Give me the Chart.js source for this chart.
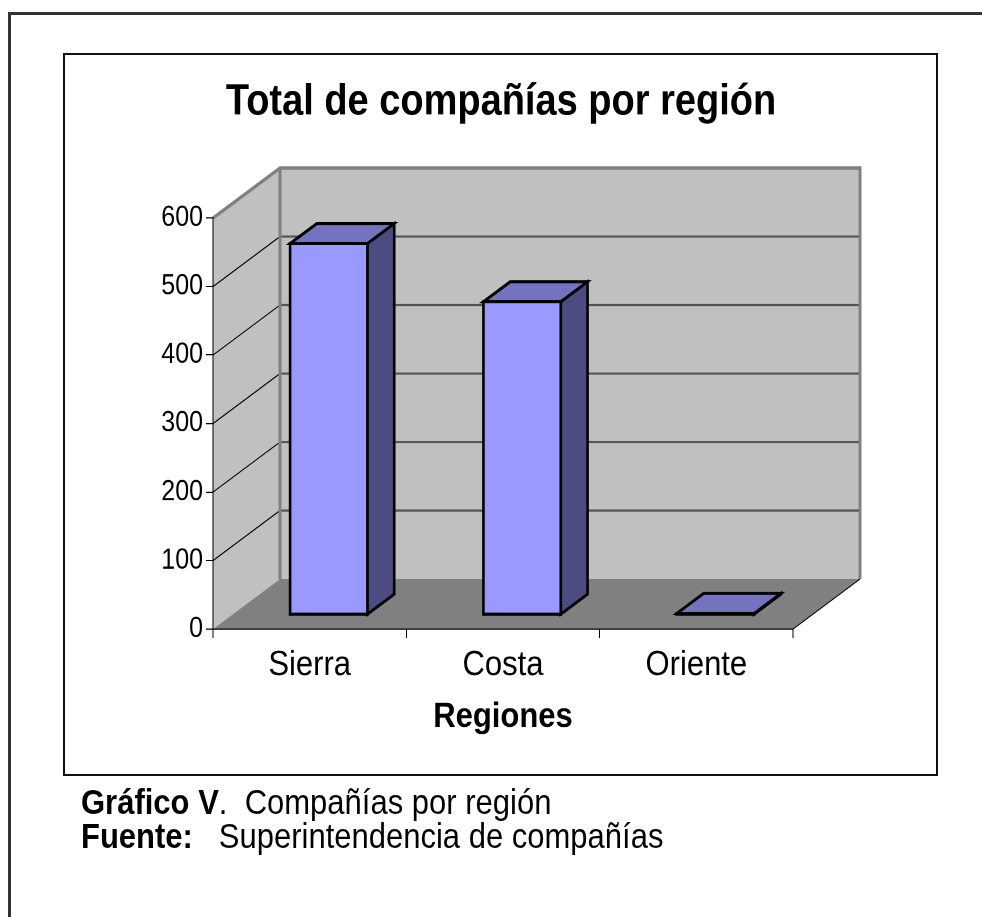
<!DOCTYPE html>
<html>
<head>
<meta charset="utf-8">
<script src="https://cdn.jsdelivr.net/npm/chart.js@4.4.1/dist/chart.umd.min.js"></script>
<style>
  body { margin: 0; background: #fff; width: 982px; height: 917px; overflow: hidden; position: relative;
         font-family: "Liberation Sans", Arial, sans-serif; }
  #outer { position: absolute; left: 8px; top: 12px; width: 1000px; height: 1000px;
           border-left: 3px solid #333; border-top: 3px solid #333; }
  #inner { position: absolute; left: 63px; top: 53px; width: 871px; height: 719px; border: 2px solid #111; }
  /* the original picture is stretched a bit vertically, text included */
  #chart { position: absolute; left: 0; top: 0; transform: scaleY(1.15); transform-origin: 0 0; }
  .cap { position: absolute; left: 81px; top: 785px; font-size: 31px; line-height: 30px; color: #000;
         white-space: pre; transform: scaleY(1.15); transform-origin: 0 0; }
</style>
</head>
<body>
<div id="outer"></div>
<div id="inner"></div>
<canvas id="chart" width="982" height="797"></canvas>
<div class="cap"><b>Gráfico V</b>.  Compañías por región
<b>Fuente:</b>   Superintendencia de compañías</div>

<script>
let regions = ["Sierra", "Costa", "Oriente"];
let companies = [542, 457, 2];
let yMax = 600;
let yStep = 100;

// depth of the 3D box and where the bars sit inside it
const DX = 67, DY = -43.5;
const D0 = 0.285, D1 = 0.685;

function poly(ctx, pts) {
    ctx.beginPath();
    ctx.moveTo(pts[0][0], pts[0][1]);
    for (let i = 1; i < pts.length; i++) ctx.lineTo(pts[i][0], pts[i][1]);
    ctx.closePath();
}

function line(ctx, x1, y1, x2, y2) {
    ctx.beginPath();
    ctx.moveTo(x1, y1);
    ctx.lineTo(x2, y2);
    ctx.stroke();
}

const box3d = {
    id: 'box3d',
    beforeDraw(chart) {
        const ctx = chart.ctx;
        const a = chart.chartArea;
        const y = chart.scales.y;
        ctx.save();

        // back wall
        ctx.fillStyle = '#c0c0c0';
        ctx.fillRect(a.left + DX, a.top + DY, a.right - a.left, a.bottom - a.top);
        // left wall
        poly(ctx, [[a.left, a.top], [a.left + DX, a.top + DY], [a.left + DX, a.bottom + DY], [a.left, a.bottom]]);
        ctx.fill();
        // floor
        ctx.fillStyle = '#808080';
        poly(ctx, [[a.left, a.bottom], [a.left + DX, a.bottom + DY], [a.right + DX, a.bottom + DY], [a.right, a.bottom]]);
        ctx.fill();

        // gridlines
        y.ticks.forEach(t => {
            if (t.value === 0 || t.value === yMax) return;
            const py = y.getPixelForValue(t.value);
            ctx.strokeStyle = '#555';
            ctx.lineWidth = 1.8;
            line(ctx, a.left + DX, py + DY, a.right + DX, py + DY);
            ctx.strokeStyle = '#000';
            ctx.lineWidth = 1;
            line(ctx, a.left, py, a.left + DX, py + DY);
        });

        // wall edges
        ctx.strokeStyle = '#808080';
        ctx.lineWidth = 3;
        ctx.beginPath();
        ctx.moveTo(a.left, a.top);
        ctx.lineTo(a.left + DX, a.top + DY);
        ctx.lineTo(a.right + DX, a.top + DY);
        ctx.lineTo(a.right + DX, a.bottom + DY);
        ctx.stroke();
        line(ctx, a.left + DX, a.top + DY, a.left + DX, a.bottom + DY);

        // floor right edge
        ctx.strokeStyle = '#000';
        ctx.lineWidth = 1;
        line(ctx, a.right, a.bottom, a.right + DX, a.bottom + DY);
        ctx.restore();
    },
    afterDatasetsDraw(chart) {
        const ctx = chart.ctx;
        const meta = chart.getDatasetMeta(0);
        ctx.save();
        ctx.strokeStyle = '#000';
        ctx.lineWidth = 2.6;
        ctx.lineJoin = 'miter';
        meta.data.forEach(bar => {
            const p = bar.getProps(['x', 'y', 'base', 'width'], true);
            const x0 = p.x - p.width / 2 + D0 * DX;
            const x1 = p.x + p.width / 2 + D0 * DX;
            const top = p.y + D0 * DY;
            const bot = p.base + D0 * DY;
            const bx = (D1 - D0) * DX, by = (D1 - D0) * DY;

            ctx.fillStyle = '#4c4c80';
            poly(ctx, [[x1, top], [x1 + bx, top + by], [x1 + bx, bot + by], [x1, bot]]);
            ctx.fill(); ctx.stroke();

            ctx.fillStyle = '#7373bf';
            poly(ctx, [[x0, top], [x0 + bx, top + by], [x1 + bx, top + by], [x1, top]]);
            ctx.fill(); ctx.stroke();

            ctx.fillStyle = '#9999ff';
            poly(ctx, [[x0, top], [x1, top], [x1, bot], [x0, bot]]);
            ctx.fill(); ctx.stroke();
        });
        ctx.restore();
    }
};

Chart.defaults.font.family = '"Liberation Sans", Arial, sans-serif';
Chart.defaults.color = '#000';

let ctx = document.getElementById('chart').getContext('2d');

let chart = new Chart(ctx, {
    type: 'bar',
    data: {
        labels: regions,
        datasets: [{
            label: 'Compañías',
            data: companies,
            backgroundColor: 'rgba(0,0,0,0)',
            borderWidth: 0,
            barPercentage: 0.4,
            categoryPercentage: 1
        }]
    },
    options: {
        responsive: false,
        devicePixelRatio: 2,
        animation: false,
        events: [],
        layout: {
            padding: { left: 40, right: 20, top: 0, bottom: 151 }
        },
        plugins: {
            legend: { display: false },
            tooltip: { enabled: false },
            title: {
                display: true,
                text: 'Total de compañías por región',
                color: '#000',
                font: { size: 38, weight: 'bold' },
                padding: { top: 66, bottom: 78 }
            }
        },
        scales: {
            x: {
                grid: { drawOnChartArea: false, tickLength: 8, color: '#000', offset: true },
                border: { color: '#000', width: 1 },
                ticks: { font: { size: 31 }, color: '#000', padding: 5 },
                title: {
                    display: true,
                    text: 'Regiones',
                    color: '#000',
                    font: { size: 31, weight: 'bold' },
                    padding: { top: 0, bottom: 4 }
                },
                afterFit: s => { s.height = 99; }
            },
            y: {
                min: 0,
                max: yMax,
                grid: { drawOnChartArea: false, tickLength: 7, color: '#000' },
                border: { color: '#000', width: 1 },
                ticks: { stepSize: yStep, font: { size: 25 }, color: '#000', padding: 3 },
                afterFit: s => { s.width = 173; }
            },
            // empty axis on the right, only to keep the title centred on the frame
            yRight: {
                position: 'right',
                grid: { display: false },
                border: { display: false },
                ticks: { display: false },
                afterFit: s => { s.width = 169; }
            }
        }
    },
    plugins: [box3d]
});
</script>
</body>
</html>
